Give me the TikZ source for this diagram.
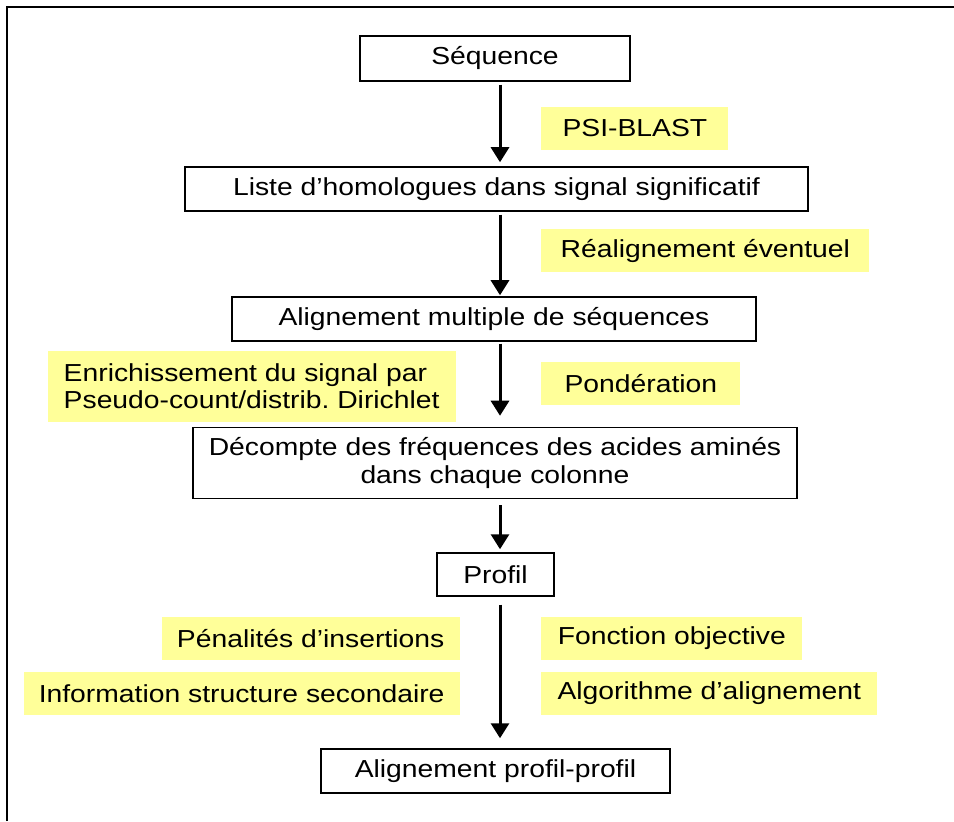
\documentclass[tikz,border=0pt]{standalone}
\usepackage{fontspec}
\setmainfont{Liberation Sans}[FakeStretch=1.15]
\usepackage{xcolor}
\usepackage{tikz}
\usetikzlibrary{arrows.meta}
\definecolor{jaune}{RGB}{255,255,153}
\frenchspacing
\tikzset{boite/.style={draw,line width=0.85pt,align=center,inner sep=0pt},
note/.style={fill=jaune,inner sep=0pt,minimum height=0.86cm},
fleche/.style={->,line width=1.7pt}}

\begin{document}
\begin{tikzpicture}[>={Triangle[length=0.3cm,width=0.36cm]},every node/.style={font=\fontsize{14}{15.5}\selectfont}]
    \useasboundingbox (0,0) rectangle (19.08,16.42);
    \draw [line width=1.2pt] (0.14,0) |- (19.08,16.28);

    \node[boite,minimum width=5.4cm,minimum height=0.9cm] (s) at (9.9,15.25) {Séquence};
    \node[boite,minimum width=12.46cm,minimum height=0.88cm] (l) at (9.93,12.64) {Liste d’homologues dans signal significatif};
    \node[boite,minimum width=10.48cm,minimum height=0.88cm] (m) at (9.88,10.04) {Alignement multiple de séquences};
    \node[boite,minimum width=12.08cm,minimum height=1.42cm] (d) at (9.9,7.16) {Décompte des fréquences des acides aminés\\dans chaque colonne};
    \node[boite,minimum width=2.34cm,minimum height=0.86cm] (p) at (9.91,4.93) {Profil};
    \node[boite,minimum width=6.98cm,minimum height=0.88cm] (f) at (9.91,1.0) {Alignement profil-profil};
    \coordinate (x) at (10,0);

    \node[note,anchor=west,minimum width=3.74cm] (psi) at (10.82,13.85) {PSI-BLAST};
    \node[note,anchor=west,minimum width=6.56cm] (re) at (10.82,11.41) {Réalignement éventuel};
    \node[note,anchor=west,minimum width=3.98cm] (po) at (10.82,8.75) {Pondération};
    \node[note,anchor=east,minimum width=8.16cm,minimum height=1.42cm,align=left] (en) at (9.12,8.69) {Enrichissement du signal par\\Pseudo-count/distrib. Dirichlet};
    \node[note,anchor=east,minimum width=5.96cm] (pe) at (9.2,3.65) {Pénalités d’insertions};
    \node[note,anchor=east,minimum width=8.72cm] (in) at (9.2,2.55) {Information structure secondaire};
    \node[note,anchor=west,minimum width=5.22cm] (fo) at (10.82,3.65) {Fonction objective};
    \node[note,anchor=west,minimum width=6.72cm] (al) at (10.82,2.55) {Algorithme d’alignement};

    \draw [fleche,shorten <=0.06cm,shorten >=0.08cm] (s.south -| x) -- (l.north -| x);
    \draw [fleche,shorten <=0.06cm,shorten >=0.02cm] (l.south -| x) -- (m.north -| x);
    \draw [fleche,shorten <=0.04cm,shorten >=0.22cm] (m.south -| x) -- (d.north -| x);
    \draw [fleche,shorten <=0.12cm,shorten >=0.06cm] (d.south -| x) -- (p.north -| x);
    \draw [fleche,shorten <=0.16cm,shorten >=0.2cm] (p.south -| x) -- (f.north -| x);
\end{tikzpicture}
\end{document}
